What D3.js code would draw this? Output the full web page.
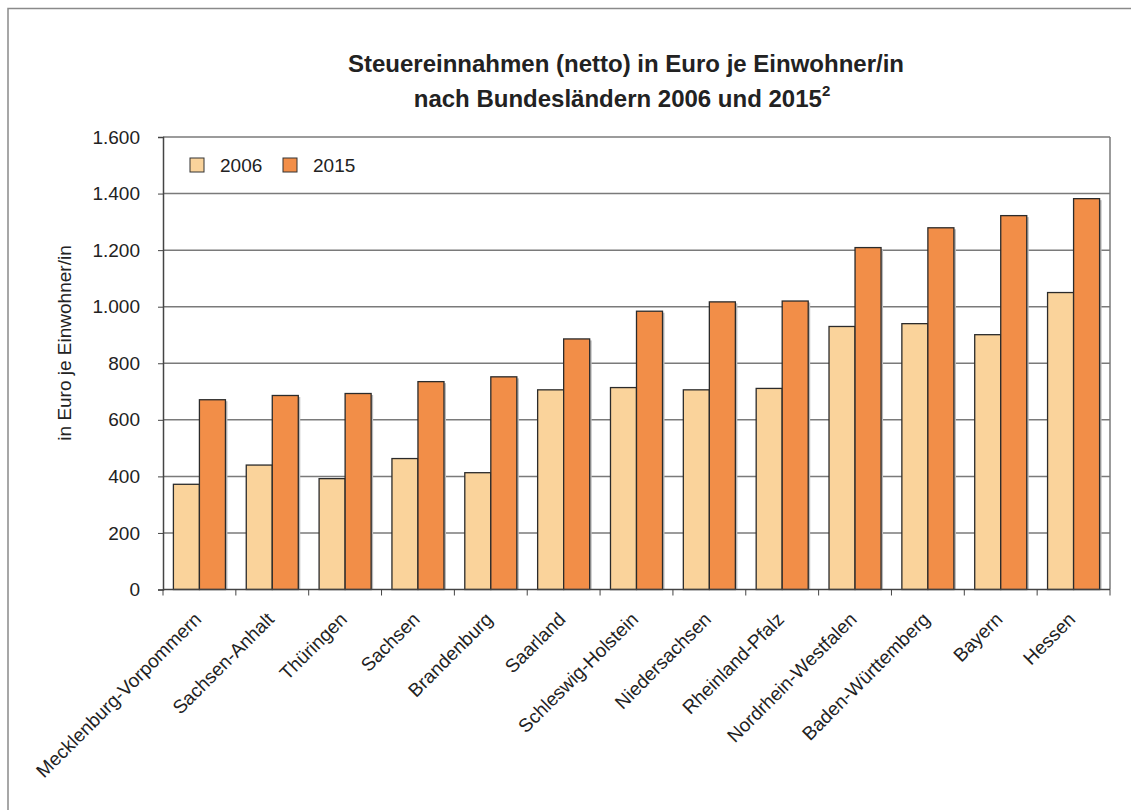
<!DOCTYPE html>
<html>
<head>
<meta charset="utf-8">
<script src="https://cdn.jsdelivr.net/npm/d3@7"></script>
<style>
  body { margin: 0; background: #fff; }
  text { font-family: "Liberation Sans", Arial, sans-serif; fill: #222; }
</style>
</head>
<body>
<svg width="1131" height="810"></svg>
<script>
const laender = ['Mecklenburg-Vorpommern', 'Sachsen-Anhalt', 'Thüringen', 'Sachsen', 'Brandenburg',
  'Saarland', 'Schleswig-Holstein', 'Niedersachsen', 'Rheinland-Pfalz', 'Nordrhein-Westfalen',
  'Baden-Württemberg', 'Bayern', 'Hessen'];
const jahre = ['2006', '2015'];
const werte2006 = [372, 440, 392, 463, 413, 706, 714, 706, 711, 930, 940, 901, 1050];
const werte2015 = [671, 686, 693, 735, 752, 886, 984, 1017, 1020, 1209, 1279, 1322, 1382];
const yTicks = [0, 200, 400, 600, 800, 1000, 1200, 1400, 1600];

const farben = { '2006': '#fad39b', '2015': '#f28e48' };

var svg = d3.select('svg'),
  margin = { top: 137, left: 163 },
  width = 947,
  height = 452.5,
  g = svg.append('g').attr('transform', 'translate(' + margin.left + ',' + margin.top + ')');

// outer frame
svg.append('rect')
  .attr('x', 8).attr('y', 8.5).attr('width', 1140).attr('height', 820)
  .attr('fill', 'none').attr('stroke', '#8a8a8a').attr('stroke-width', 1.5);

const de = d3.formatLocale({ decimal: ',', thousands: '.', grouping: [3], currency: ['', ' €'] });

const x = d3.scaleBand().domain(laender).range([0, width]);
const x1 = d3.scaleBand().domain(jahre).range([0, x.bandwidth()]).paddingOuter(0.4);
const y = d3.scaleLinear().domain([0, 1600]).range([height, 0]);

// gridlines
g.append('g')
  .selectAll('line')
  .data(yTicks.slice(1))
  .enter().append('line')
  .attr('x1', 0).attr('x2', width)
  .attr('y1', d => y(d)).attr('y2', d => y(d))
  .attr('stroke', '#7a7a7a').attr('stroke-width', 1.5);

// right border of plot
g.append('line')
  .attr('x1', width).attr('x2', width).attr('y1', 0).attr('y2', height)
  .attr('stroke', '#7a7a7a').attr('stroke-width', 1.5);

const rows = laender.map((l, i) => ({ land: l, '2006': werte2006[i], '2015': werte2015[i] }));

const gruppe = g.selectAll('.land')
  .data(rows)
  .enter().append('g')
  .attr('class', 'land')
  .attr('transform', d => 'translate(' + x(d.land) + ',0)');

// soft shadow
gruppe.selectAll('rect.shadow')
  .data(d => jahre.map(j => ({ jahr: j, wert: d[j] })))
  .enter().append('rect')
  .attr('class', 'shadow')
  .attr('x', d => x1(d.jahr) + 2)
  .attr('y', d => y(d.wert) + 1.5)
  .attr('width', x1.bandwidth())
  .attr('height', d => height - y(d.wert) - 1.5)
  .attr('fill', '#bbb');

gruppe.selectAll('rect.bar')
  .data(d => jahre.map(j => ({ jahr: j, wert: d[j] })))
  .enter().append('rect')
  .attr('class', 'bar')
  .attr('x', d => x1(d.jahr))
  .attr('y', d => y(d.wert))
  .attr('width', x1.bandwidth())
  .attr('height', d => height - y(d.wert))
  .attr('fill', d => farben[d.jahr])
  .attr('stroke', '#2b2b2b').attr('stroke-width', 1.3);

// y axis
const yAxis = g.append('g')
  .call(d3.axisLeft(y).tickValues(yTicks).tickSize(5).tickPadding(18).tickFormat(de.format(',d')));
yAxis.select('.domain').attr('stroke', '#444').attr('stroke-width', 1.5);
yAxis.selectAll('.tick line').attr('stroke', '#444');
yAxis.selectAll('text').style('font-size', '19px').attr('fill', '#222');

// x axis: ticks at category boundaries
const xAxis = g.append('g').attr('transform', 'translate(0,' + height + ')');
xAxis.append('line').attr('x1', 0).attr('x2', width).attr('stroke', '#444').attr('stroke-width', 1.5);
xAxis.selectAll('.grenze')
  .data(laender.concat(['end']))
  .enter().append('line')
  .attr('x1', (d, i) => i * x.step()).attr('x2', (d, i) => i * x.step())
  .attr('y1', 0).attr('y2', 6)
  .attr('stroke', '#444');
xAxis.selectAll('.label')
  .data(laender)
  .enter().append('text')
  .attr('transform', d => 'translate(' + (x(d) + x.bandwidth() / 2 + 3) + ',31) rotate(-45)')
  .attr('text-anchor', 'end')
  .style('font-size', '19px')
  .text(d => d);

// y label
svg.append('text')
  .attr('transform', 'translate(71,343) rotate(-90)')
  .attr('text-anchor', 'middle')
  .style('font-size', '19px')
  .text('in Euro je Einwohner/in');

// title
svg.append('text')
  .attr('x', 626).attr('y', 72)
  .attr('text-anchor', 'middle')
  .style('font-size', '24px')
  .style('font-weight', 'bold')
  .text('Steuereinnahmen (netto) in Euro je Einwohner/in');
const t2 = svg.append('text')
  .attr('x', 622).attr('y', 107)
  .attr('text-anchor', 'middle')
  .style('font-size', '24px')
  .style('font-weight', 'bold');
t2.append('tspan').text('nach Bundesländern 2006 und 2015');
t2.append('tspan').attr('dy', -11).style('font-size', '15px').text('2');

// legend
const legend = svg.append('g').attr('transform', 'translate(190,158)');
const li = legend.selectAll('g')
  .data(jahre)
  .enter().append('g')
  .attr('transform', (d, i) => 'translate(' + (i * 93) + ',0)');
li.append('rect')
  .attr('width', 14).attr('height', 14)
  .attr('fill', d => farben[d])
  .attr('stroke', '#333').attr('stroke-width', 1);
li.append('text')
  .attr('x', 30).attr('y', 14)
  .style('font-size', '19px')
  .text(d => d);
</script>
</body>
</html>
